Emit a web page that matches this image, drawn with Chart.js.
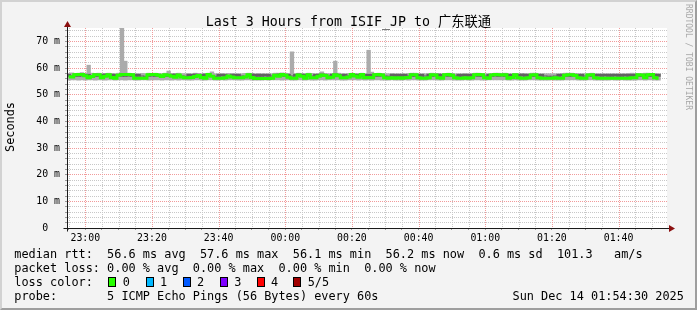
<!DOCTYPE html>
<html><head><meta charset="utf-8">
<script src="https://cdn.jsdelivr.net/npm/chart.js@4"></script>
<style>
html,body{margin:0;padding:0;}
body{width:697px;height:310px;position:relative;overflow:hidden;background:#f3f3f3;font-family:'DejaVu Sans Mono',monospace;color:#000;}
#frame{position:absolute;left:0;top:0;width:697px;height:310px;box-sizing:border-box;border-style:solid;border-width:2px;border-color:#d2d2d2 #9e9e9e #9e9e9e #d2d2d2;}
canvas{position:absolute;left:0;top:0;}
.t{position:absolute;white-space:pre;}
.leg{font-size:11.87px;line-height:14.1px;}
.sq{position:absolute;width:8px;height:10px;box-sizing:border-box;border:1px solid #000;}
</style></head>
<body>
<div id="frame"></div>
<canvas id="c" width="697" height="310"></canvas>
<div class="t" style="left:0;width:697px;text-align:center;top:14px;font-size:13.3px;line-height:16px;font-family:'DejaVu Sans Mono','Noto Sans CJK SC',monospace;">Last 3 Hours from ISIF_JP to 广东联通</div>
<div class="t" style="left:-20px;width:60px;text-align:center;top:120px;font-size:11.87px;line-height:14px;transform:rotate(-90deg);transform-origin:30px 7px;">Seconds</div>
<div class="t" style="left:628px;width:120px;text-align:center;top:52px;font-size:8px;line-height:10px;color:#a8a8a8;transform:rotate(90deg);transform-origin:60px 5px;">RRDTOOL / TOBI OETIKER</div>
<div class="t leg" style="left:14.3px;top:246.6px;">median rtt:  56.6 ms avg  57.6 ms max  56.1 ms min  56.2 ms now  0.6 ms sd  101.3   am/s
packet loss: 0.00 % avg  0.00 % max  0.00 % min  0.00 % now
loss color:
probe:       5 ICMP Echo Pings (56 Bytes) every 60s</div>
<div class="t leg" style="left:512.5px;top:288.9px;">Sun Dec 14 01:54:30 2025</div>
<div id="lossLegend"></div>
<script>
// ---- data ----
const firstMinute = -65;   // 22:55, minutes relative to 00:00
const stepMinutes = 1;
const rangeStart = -65.5;  // 22:54:30
const rangeEnd = 114.53;   // 01:54:30

const median = [
56.7,56.6,57.5,57.6,57.6,57.1,56.3,56.8,57.5,57.5,
56.3,56.9,57.5,56.4,56.2,57.3,57.6,57.6,57.6,57.5,
56.2,56.2,56.2,56.2,57.5,57.6,57.6,57.3,56.8,57.5,
57.3,56.9,56.5,57.4,56.6,56.3,56.3,56.4,56.8,57.2,
56.4,56.2,57.6,56.9,56.2,56.2,56.2,56.3,57.0,56.6,
56.3,56.3,56.3,56.6,57.5,56.4,56.1,56.1,56.1,56.1,
56.1,56.2,57.3,56.9,57.6,57.3,56.5,56.2,56.2,57.4,
56.9,56.2,57.5,56.3,56.3,56.9,57.4,57.2,56.3,56.5,
57.5,57.1,56.3,56.3,56.6,57.6,57.0,56.5,57.6,56.3,
56.4,56.3,57.5,57.6,57.4,56.3,56.2,56.3,56.2,56.3,
56.2,56.3,56.4,57.5,57.5,56.3,56.2,56.2,56.3,57.5,
57.4,56.3,56.2,57.5,57.6,57.3,56.3,56.2,56.2,56.3,
56.2,56.3,57.5,57.6,57.5,56.3,56.2,57.4,57.6,57.5,
57.4,57.5,56.2,56.4,57.5,56.3,56.2,56.2,56.3,57.4,
57.5,56.3,56.2,56.2,56.2,56.2,56.3,56.2,56.2,57.3,
57.5,57.5,57.2,56.3,56.2,56.2,57.4,57.5,56.3,56.2,
56.2,56.2,56.2,56.2,56.2,56.2,56.2,56.2,56.2,56.3,
56.3,57.5,57.4,56.3,57.5,57.6,56.3,56.2];

const smokeHi = [
57.9,58.1,57.9,58.0,58.2,57.9,61.0,58.0,57.9,58.0,
57.8,57.9,58.0,57.9,57.8,58.0,75.0,62.5,58.0,57.9,
57.8,57.8,57.9,57.8,58.0,57.9,58.0,57.9,57.8,58.0,
58.8,57.9,57.8,58.0,57.8,57.8,57.9,57.8,58.0,57.9,
57.8,57.8,58.0,58.5,57.8,57.8,57.9,57.8,57.9,57.9,
57.8,57.8,57.8,57.9,58.0,57.8,57.8,57.9,57.8,57.8,
57.8,57.8,58.0,58.0,58.1,58.0,57.9,66.0,57.8,58.0,
57.9,57.8,58.0,57.9,57.8,57.9,58.5,57.9,57.8,57.9,
62.5,58.0,57.8,57.8,57.9,58.0,57.9,57.8,58.0,57.8,
66.6,58.4,57.9,58.0,57.9,57.8,57.8,57.9,57.8,57.8,
57.8,57.8,57.9,58.0,58.0,57.8,57.8,57.8,57.9,58.0,
57.9,57.8,57.8,57.9,58.0,57.9,57.8,57.8,57.8,57.9,
57.8,57.9,58.0,58.0,57.9,57.8,57.8,57.9,58.0,58.0,
57.9,58.0,57.8,57.8,57.9,57.8,57.8,57.9,57.8,58.0,
58.0,57.8,57.8,57.8,57.8,57.8,57.8,57.8,57.9,58.0,
58.0,58.0,57.9,57.8,57.8,57.8,57.9,58.0,57.8,57.8,
57.8,57.8,57.8,57.8,57.8,57.8,57.8,57.8,57.9,58.0,
57.9,57.8,57.8,58.0,58.0,57.8,57.9,57.8];

const smokeLo = [
55.5,55.6,55.6,55.5,55.6,55.5,55.6,55.6,55.5,55.6,
55.6,55.5,55.6,55.6,55.5,55.6,55.6,55.5,55.6,55.6,
55.5,55.5,55.6,55.6,55.5,55.6,55.6,55.6,55.5,55.6,
55.6,55.5,55.6,55.5,55.6,55.6,55.5,55.5,55.6,55.6,
55.5,55.5,55.6,55.6,55.5,55.5,55.6,55.5,55.6,55.6,
55.6,55.5,55.5,55.6,55.6,55.5,55.5,55.5,55.5,55.6,
55.5,55.6,55.6,55.6,55.5,55.6,55.6,55.5,55.5,55.6,
55.6,55.5,55.6,55.5,55.5,55.6,55.6,55.5,55.6,55.6,
55.6,55.6,55.5,55.5,55.6,55.6,55.6,55.5,55.6,55.5,
55.6,55.5,55.6,55.6,55.5,55.5,55.5,55.6,55.5,55.5,
55.5,55.6,55.5,55.6,55.6,55.5,55.5,55.5,55.6,55.6,
55.6,55.5,55.5,55.6,55.6,55.6,55.5,55.5,55.5,55.6,
55.5,55.5,55.6,55.6,55.5,55.5,55.6,55.6,55.6,55.6,
55.6,55.6,55.5,55.5,55.6,55.5,55.5,55.5,55.6,55.6,
55.6,55.5,55.5,55.5,55.5,55.6,55.5,55.5,55.5,55.6,
55.6,55.6,55.6,55.5,55.5,55.5,55.6,55.6,55.5,55.5,
55.5,55.5,55.5,55.6,55.5,55.5,55.6,55.5,55.5,55.5,
55.5,55.6,55.6,55.5,55.6,55.6,55.5,55.5];

const coreLo = [
56.9,57.0,56.9,56.9,57.0,56.9,56.9,57.0,56.9,56.9,
57.0,56.9,56.9,57.0,56.9,57.0,56.9,56.9,57.0,56.9,
56.9,56.9,57.0,56.9,56.9,57.0,56.9,56.9,57.0,56.9,
56.9,57.0,56.9,56.9,57.0,56.9,56.9,57.0,56.9,56.9,
57.0,56.9,56.9,57.0,56.9,56.9,57.0,56.9,57.0,56.9,
56.9,56.9,57.0,56.9,56.9,57.0,56.9,56.9,56.9,57.0,
56.9,57.0,56.9,56.9,57.0,56.9,56.9,57.0,56.9,56.9,
57.0,56.9,56.9,57.0,56.9,56.9,57.0,56.9,57.0,56.9,
56.9,57.0,56.9,56.9,57.0,56.9,56.9,57.0,56.9,56.9,
57.0,56.9,56.9,56.9,57.0,56.9,56.9,57.0,56.9,56.9,
56.9,57.0,57.0,56.9,56.9,57.0,56.9,57.0,56.9,56.9,
57.0,56.9,56.9,57.0,56.9,56.9,57.0,56.9,56.9,57.0,
56.9,56.9,57.0,56.9,56.9,57.0,56.9,56.9,57.0,56.9,
57.0,56.9,56.9,57.0,56.9,56.9,57.0,56.9,56.9,56.9,
56.9,57.0,56.9,57.0,56.9,56.9,57.0,56.9,57.0,56.9,
56.9,56.9,57.0,56.9,56.9,57.0,57.0,56.9,56.9,57.0,
56.9,57.0,56.9,56.9,57.0,56.9,56.9,57.0,56.9,56.9,
57.0,56.9,56.9,57.0,56.9,56.9,57.0,56.9];

const coreHi = [
57.6,57.0,57.7,57.6,57.7,57.6,57.6,57.0,57.7,57.6,
57.6,57.7,57.6,57.6,57.6,57.0,57.7,57.6,57.7,57.6,
57.6,57.6,57.0,56.9,57.6,57.7,57.6,57.6,57.0,57.6,
57.6,57.6,57.7,57.6,57.0,56.9,57.6,57.6,57.7,57.6,
57.6,57.7,57.6,57.0,56.9,57.6,57.6,57.6,57.0,57.6,
57.6,57.6,57.0,56.9,57.6,57.7,57.6,57.6,57.6,57.6,
57.6,57.0,57.6,57.7,57.6,57.6,57.6,57.0,57.6,57.7,
57.6,57.6,57.6,57.0,57.6,57.6,57.7,57.6,57.0,57.6,
57.7,57.6,57.6,57.6,57.0,57.7,57.6,57.6,57.6,57.6,
57.6,57.6,57.7,57.6,57.6,57.0,56.9,57.6,57.6,57.6,
57.6,57.6,57.0,57.7,57.6,57.6,57.6,57.0,57.6,57.6,
57.6,57.7,57.6,57.6,57.6,57.6,57.0,57.6,57.6,57.6,
57.6,57.6,57.6,57.7,57.6,57.0,57.6,57.6,57.7,57.6,
57.6,57.7,57.6,57.6,57.6,57.6,57.7,57.6,57.6,57.6,
57.6,57.6,57.6,57.0,56.9,56.9,57.0,57.6,57.6,57.6,
57.6,57.6,57.6,57.6,57.6,57.0,57.0,57.6,57.6,57.6,
57.6,57.6,57.6,57.6,57.6,57.6,57.6,57.6,57.6,57.6,
57.6,57.6,57.6,57.6,57.6,57.6,57.6,57.6];

const lossColors = ['#26ff00','#00b8ff','#0059ff','#7e00ff','#ff0000','#a10000'];
const lossLabels = ['0','1','2','3','4','5/5'];
const xTickStep = 5, xLabelEvery = 20;
const yTickStep = 2, yLabelEvery = 10;
const yMin = 0, yMax = 75;

// ---- build ----
const xs = median.map((_, i) => firstMinute + i * stepMinutes);
const medianPts = median.map((v, i) => ({x: xs[i], y: v}));
const smokePts = smokeLo.map((v, i) => ({x: xs[i], y: [v, smokeHi[i]]}));
const corePts = coreLo.map((v, i) => ({x: xs[i], y: [v, coreHi[i]]}));

function fmtTime(v) {
  const m = ((Math.round(v) % 1440) + 1440) % 1440;
  const h = Math.floor(m / 60), mm = m % 60;
  return String(h).padStart(2, '0') + ':' + String(mm).padStart(2, '0');
}
const MAJOR = '#f19b9b', MINOR = '#c8c8c8';
const tickFont = {family: 'DejaVu Sans Mono', size: 9.9};

// loss legend
const lg = document.getElementById('lossLegend');
const sqX = [108.3, 145.6, 182.7, 219.9, 256.7, 293.3];
lossColors.forEach((c, i) => {
  const s = document.createElement('div');
  s.className = 'sq'; s.style.left = sqX[i] + 'px'; s.style.top = '277px'; s.style.background = c;
  lg.appendChild(s);
  const t = document.createElement('div');
  t.className = 't leg'; t.textContent = lossLabels[i];
  t.style.left = (sqX[i] + 14.4) + 'px'; t.style.top = '274.8px';
  lg.appendChild(t);
});

const rrdPlugin = {
  id: 'rrd',
  beforeDraw(chart) {
    const {ctx, chartArea: a} = chart;
    ctx.save(); ctx.fillStyle = '#ffffff';
    ctx.fillRect(a.left, a.top, a.right - a.left, a.bottom - a.top);
    ctx.restore();
  },
  beforeDatasetsDraw(chart) {
    // dotted rrdtool-style grid, positioned from the chart's own scales
    const {ctx, chartArea: a, scales} = chart;
    const xS = scales.x, yS = scales.y;
    const top = Math.round(a.top), bot = Math.round(a.bottom);
    const left = Math.round(a.left), right = Math.round(a.right);
    ctx.save();
    const vLines = (major) => {
      xS.ticks.forEach(t => {
        const isMajor = t.value % xLabelEvery === 0;
        if (isMajor !== major) return;
        const px = Math.round(xS.getPixelForValue(t.value));
        if (px <= left || px >= right) return;
        ctx.fillStyle = major ? MAJOR : MINOR;
        for (let yy = top; yy < bot; yy += 2) ctx.fillRect(px, yy, 1, 1);
      });
    };
    const hLines = (major) => {
      yS.ticks.forEach(t => {
        const isMajor = t.value % yLabelEvery === 0;
        if (isMajor !== major) return;
        const py = Math.floor(yS.getPixelForValue(t.value));
        if (py >= bot || py < top) return;
        ctx.fillStyle = major ? MAJOR : MINOR;
        for (let xx = left + 1; xx < right; xx += 2) ctx.fillRect(xx, py, 1, 1);
      });
    };
    vLines(false); hLines(false); vLines(true); hLines(true);
    ctx.restore();
  },
  afterDraw(chart) {
    const {ctx, chartArea: a} = chart;
    const L = Math.round(a.left) + 0.5, B = Math.round(a.bottom) + 0.5;
    const R = Math.round(a.right), T = Math.round(a.top);
    ctx.save();
    ctx.strokeStyle = '#1a1a1a'; ctx.lineWidth = 1;
    ctx.beginPath();
    ctx.moveTo(L - 4, B); ctx.lineTo(R + 3, B);
    ctx.moveTo(L, B + 3); ctx.lineTo(L, T - 2);
    ctx.stroke();
    ctx.fillStyle = '#8b1010';
    ctx.beginPath(); ctx.moveTo(R + 8, B); ctx.lineTo(R + 2, B - 3.5); ctx.lineTo(R + 2, B + 3.5); ctx.closePath(); ctx.fill();
    ctx.beginPath(); ctx.moveTo(L, T - 7); ctx.lineTo(L - 3.5, T - 1); ctx.lineTo(L + 3.5, T - 1); ctx.closePath(); ctx.fill();
    ctx.restore();
  }
};

new Chart(document.getElementById('c'), {
  type: 'bar',
  data: {
    datasets: [
      {type: 'line', label: 'median rtt', data: medianPts, borderColor: '#26ff00', borderWidth: 3,
       stepped: 'middle', pointRadius: 0, fill: false, order: 0, borderCapStyle: 'butt'},
      {label: 'smoke core', data: corePts, backgroundColor: '#626262', grouped: false, order: 1,
       barPercentage: 1, categoryPercentage: 1, inflateAmount: 0.5, borderWidth: 0},
      {label: 'smoke', data: smokePts, backgroundColor: '#ababab', grouped: false, order: 2,
       barPercentage: 1, categoryPercentage: 1, inflateAmount: 0.5, borderWidth: 0}
    ]
  },
  options: {
    responsive: false, animation: false, devicePixelRatio: 1,
    layout: {padding: {left: 0, top: 28, right: 30, bottom: 62}},
    plugins: {legend: {display: false}, tooltip: {enabled: false}, title: {display: false}},
    scales: {
      x: {
        type: 'linear', min: rangeStart, max: rangeEnd, offset: false,
        grid: {offset: false, drawOnChartArea: false, drawTicks: true, tickLength: 2,
               color: '#9a9a9a', tickColor: '#9a9a9a'},
        border: {display: false},
        ticks: {stepSize: xTickStep, includeBounds: false, autoSkip: false, maxRotation: 0, minRotation: 0,
                maxTicksLimit: 1000, padding: 2, color: '#000', font: tickFont,
                callback: v => (v % xLabelEvery === 0) ? fmtTime(v) : ''},
        afterFit: s => { s.height = 20; }
      },
      y: {
        type: 'linear', min: yMin, max: yMax,
        grid: {drawOnChartArea: false, drawTicks: true, tickLength: 2,
               color: '#9a9a9a', tickColor: '#9a9a9a'},
        border: {display: false},
        ticks: {stepSize: yTickStep, includeBounds: false, autoSkip: false, maxTicksLimit: 1000,
                padding: 5, color: '#000', font: tickFont,
                callback: v => v === 0 ? '0  ' : (v % yLabelEvery === 0 ? v + ' m' : '')},
        afterFit: s => { s.width = 67; }
      }
    }
  },
  plugins: [rrdPlugin]
});
</script>
</body></html>
